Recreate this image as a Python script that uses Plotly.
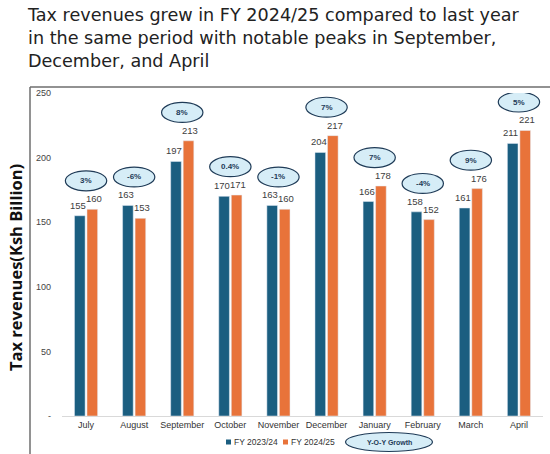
import plotly.graph_objects as go

# -----------------------------
# Data
# -----------------------------
months = ["July", "August", "September", "October", "November",
          "December", "January", "February", "March", "April"]
fy_2023_24 = [155, 163, 197, 170, 163, 204, 166, 158, 161, 211]
fy_2024_25 = [160, 153, 213, 171, 160, 217, 178, 152, 176, 221]
yoy_growth = ["3%", "-6%", "8%", "0.4%", "-1%", "7%", "7%", "-4%", "9%", "5%"]

y_ticks = [0, 50, 100, 150, 200, 250]
y_tick_text = ["-", "50", "100", "150", "200", "250"]

series_names = ["FY 2023/24", "FY 2024/25"]

BLUE = "#1B5E80"
ORANGE = "#E8733A"
BUBBLE_FILL = "#D6EDF7"
BUBBLE_LINE = "#1F3B57"
LABEL_FONT = "Liberation Sans, Arial, sans-serif"

# plot area in pixels: x 62..543, y 93..416
L, R, T, B = 62, 7, 93, 38
W, H = 550, 454
PW, PH = W - L - R, H - T - B


def px(x):
    return (x - L) / PW


def py(y):
    return (H - B - y) / PH


# -----------------------------
# Bars
# -----------------------------
fig = go.Figure()
for vals, name, col in zip([fy_2023_24, fy_2024_25], series_names, [BLUE, ORANGE]):
    fig.add_trace(go.Bar(
        x=months, y=vals, name=name,
        marker_color=col, showlegend=False,
    ))

shapes = []
annotations = []

# value labels, nudged a little outwards so neighbours don't collide
for vals, shift in zip([fy_2023_24, fy_2024_25], [-8, 8]):
    for i, v in enumerate(vals):
        annotations.append(dict(
            x=i, y=v, xref="x", yref="y", text=str(v),
            xanchor="center", yanchor="bottom", xshift=shift, yshift=3,
            showarrow=False, font=dict(size=9.5, color="#404040", family=LABEL_FONT),
        ))

# -----------------------------
# Y-O-Y growth bubbles above each month
# -----------------------------
for i, (a, b, g) in enumerate(zip(fy_2023_24, fy_2024_25, yoy_growth)):
    cy = max(a, b) + 22
    shapes.append(dict(
        type="circle", xref="x", yref="y",
        x0=i - 0.43, x1=i + 0.43, y0=cy - 7.7, y1=cy + 7.7,
        fillcolor=BUBBLE_FILL, line=dict(color=BUBBLE_LINE, width=1.2),
        layer="above",
    ))
    annotations.append(dict(
        x=i, y=cy, xref="x", yref="y", text=f"<b>{g}</b>",
        xanchor="center", yanchor="middle",
        showarrow=False, font=dict(size=8, color=BUBBLE_LINE, family=LABEL_FONT),
    ))

# hand-made legend: small squares + labels
for name, col, sx in zip(series_names, [BLUE, ORANGE], [226, 283]):
    shapes.append(dict(type="rect", xref="paper", yref="paper",
                       x0=px(sx), x1=px(sx + 5), y0=py(444.5), y1=py(439.5),
                       fillcolor=col, line=dict(width=0)))
    annotations.append(dict(
        x=px(sx + 5.5), y=py(442), xref="paper", yref="paper", text=name,
        xanchor="left", yanchor="middle", showarrow=False,
        font=dict(size=8.5, color="#333333", family=LABEL_FONT),
    ))

# legend bubble for Y-O-Y Growth
shapes.append(dict(
    type="circle", xref="paper", yref="paper",
    x0=px(345.5), x1=px(432.5), y0=py(451.5), y1=py(432.5),
    fillcolor=BUBBLE_FILL, line=dict(color=BUBBLE_LINE, width=1.2),
))
annotations.append(dict(
    x=px(389), y=py(442), xref="paper", yref="paper", text="<b>Y-O-Y Growth</b>",
    xanchor="center", yanchor="middle",
    showarrow=False, font=dict(size=7, color=BUBBLE_LINE, family=LABEL_FONT),
))

# frame around the chart (left and top edges)
shapes.append(dict(type="line", xref="paper", yref="paper",
                   x0=px(30), x1=px(30), y0=py(456), y1=py(87),
                   line=dict(color="#6E6E6E", width=1.5)))
shapes.append(dict(type="line", xref="paper", yref="paper",
                   x0=px(30), x1=px(552), y0=py(87), y1=py(87),
                   line=dict(color="#6E6E6E", width=1.5)))

# y axis title
annotations.append(dict(
    x=px(15), y=py(268), xref="paper", yref="paper",
    xanchor="center", yanchor="middle",
    text="<b>Tax revenues(Ksh Billion)</b>", textangle=-90,
    showarrow=False, font=dict(size=16.5, color="#111111", family="Open Sans"),
))

# chart title
annotations.append(dict(
    x=px(25), y=py(3), xref="paper", yref="paper", xanchor="left", yanchor="top",
    align="left", showarrow=False,
    text="Tax revenues grew in FY 2024/25 compared to last year<br>"
         "in the same period with notable peaks in September,<br>"
         "December, and April",
    font=dict(size=17.6, color="#222222", family="DejaVu Sans"),
))

# -----------------------------
# Layout
# -----------------------------
fig.update_layout(
    width=W, height=H,
    margin=dict(l=L, r=R, t=T, b=B, autoexpand=False),
    paper_bgcolor="white", plot_bgcolor="white",
    barmode="group", bargap=0.48, bargroupgap=0.15,
    showlegend=False,
    shapes=shapes,
    annotations=annotations,
)
fig.update_xaxes(
    showgrid=False, showline=True, linecolor="#D9D9D9", linewidth=1,
    ticks="", automargin=False, tickangle=0,
    tickfont=dict(size=9, color="#333333", family=LABEL_FONT),
)
fig.update_yaxes(
    range=[0, 250], tickvals=y_ticks, ticktext=y_tick_text,
    showgrid=False, zeroline=False, showline=False,
    ticklabelstandoff=10, automargin=False,
    tickfont=dict(size=9, color="#444444", family=LABEL_FONT),
)

# drop the default page margin so the figure sits at the window's corner
fig.write_html("out.html", config={"displayModeBar": False},
               post_script="document.body.style.margin='0';")
